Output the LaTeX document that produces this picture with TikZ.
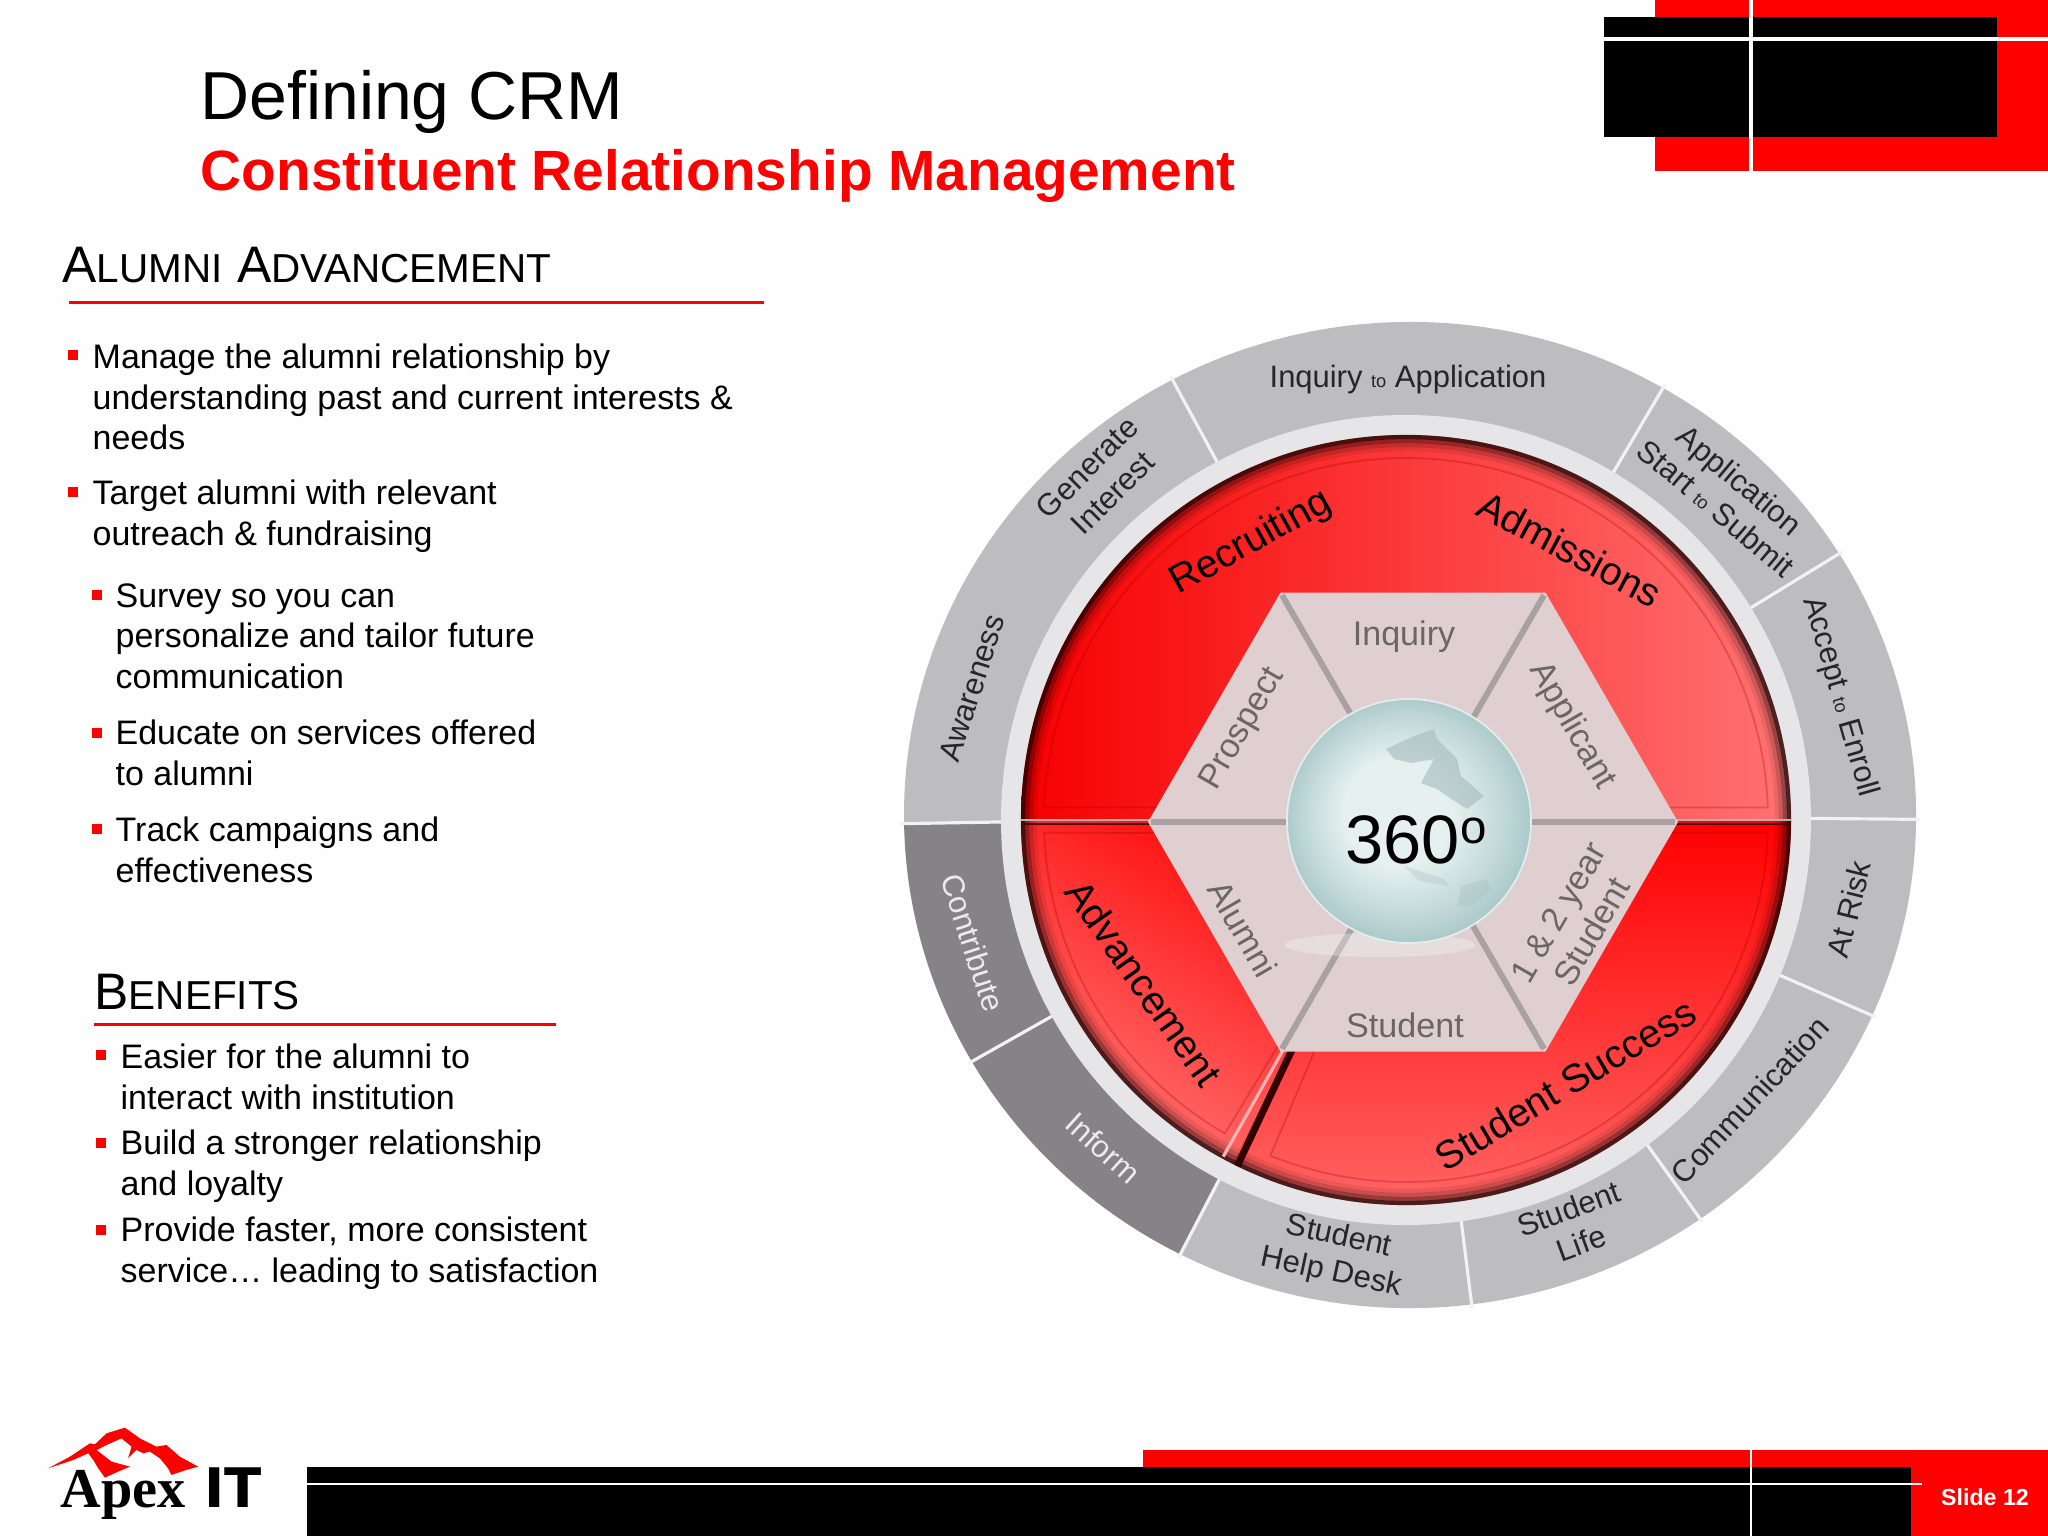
\documentclass[tikz,border=0pt]{standalone}
\usepackage{fontspec}
\setmainfont{Liberation Sans}
\newfontfamily\apexfont{Liberation Serif}
\newfontfamily\itfont{DejaVu Sans}
\definecolor{ringlight}{HTML}{BDBCBF}
\definecolor{ringdark}{HTML}{858387}
\definecolor{bandgray}{HTML}{E6E6E8}
\definecolor{hexfill}{HTML}{DFCFD0}
\definecolor{hexline}{HTML}{A9A1A1}
\definecolor{hextext}{HTML}{6A6666}
\definecolor{redsoft}{HTML}{FF7272}
\definecolor{redmid}{HTML}{FF5656}
\definecolor{globerim}{HTML}{A3C4C4}
\definecolor{globemid}{HTML}{C3D9D9}
\definecolor{globecore}{HTML}{E6F0F0}
\definecolor{globeland}{HTML}{A4BABA}
\pgfdeclareradialshading{globeball}{\pgfpoint{-4bp}{3bp}}{
  color(0bp)=(globecore);
  color(11bp)=(globecore);
  color(20bp)=(globemid);
  color(27bp)=(globerim)
}
\newcommand{\wheelsector}[3]{
  \fill[#3] (0,0) -- (#1:506 and 493) arc[start angle=#1,end angle=#2,x radius=506,y radius=493] -- cycle;
}
\newcommand{\tinyto}{{\fontsize{5.2}{6}\selectfont to}}
\begin{document}
\begin{tikzpicture}[
        x=0.01cm,
        y=-0.01cm,
        title text/.style={
          anchor=west, inner sep=0pt,
          font=\fontsize{19.3}{22}\selectfont,
        },
        subtitle text/.style={
          anchor=west, inner sep=0pt, text=red,
          font=\bfseries\fontsize{16.15}{18}\selectfont,
        },
        head text/.style={
          anchor=west, inner sep=0pt,
          font=\fontsize{14.6}{16}\selectfont,
        },
        body text/.style={
          anchor=west, inner sep=0pt, align=left,
          font=\fontsize{9.66}{11.5}\selectfont,
        },
        bullet box/.style={
          fill=red, inner sep=0pt, minimum size=2.8pt,
        },
        ring label/.style={
          inner sep=0pt, align=center, text=black!85,
          font=\fontsize{8.8}{10.4}\selectfont,
        },
        dark label/.style={
          ring label, text=white!92!black,
        },
        red label/.style={
          inner sep=0pt, text=black,
          font=\fontsize{11.2}{13}\selectfont,
        },
        hex label/.style={
          inner sep=0pt, align=center, text=hextext,
          font=\fontsize{9.7}{11}\selectfont,
        },
        inset line/.style={
          red!55!black, opacity=0.25, line width=0.5pt,
        },
        ]
        \useasboundingbox (0,0) rectangle (2048,1536);
        \fill[white!99.5!black] (0,0) rectangle (2048,1536);

        \fill[red] (1655,0) rectangle (2048,171);
        \fill[black] (1604,17) rectangle (1997,137);
        \draw[white, line width=0.9pt] (1604,39) -- (2048,39);
        \draw[white, line width=0.9pt] (1751,0) -- (1751,171);

        \fill[red] (1143,1450) rectangle (2048,1536);
        \fill[black] (307,1467) rectangle (1911,1536);
        \draw[white, line width=0.7pt] (307,1484) -- (1922,1484);
        \draw[white, line width=0.7pt] (1751,1450) -- (1751,1536);
        \node[inner sep=0pt, text=white, font=\bfseries\fontsize{6.6}{8}\selectfont] (slide) at (1985,1497) {Slide 12};

        \node[title text] (title) at (200,102) {Defining CRM};
        \node[subtitle text] (subtitle) at (200,176) {Constituent Relationship Management};

        \node[head text] (alumnihead) at (62,265) {A{\fontsize{11.5}{16}\selectfont LUMNI} A{\fontsize{11.5}{16}\selectfont DVANCEMENT}};
        \draw[red, line width=0.85pt] (69,302) -- (764,302);
        \node[body text] (manage) at (92,397) {Manage the alumni relationship by\\understanding past and current interests \&\\needs};
        \node[body text] (target) at (92,516) {Target alumni with relevant\\outreach \& fundraising};
        \node[body text] (survey) at (115,636) {Survey so you can\\personalize and tailor future\\communication};
        \node[body text] (educate) at (115,753) {Educate on services offered\\to alumni};
        \node[body text] (track) at (115,850) {Track campaigns and\\effectiveness};
        \node[bullet box] (bmanage) at (73,355) {};
        \node[bullet box] (btarget) at (73,492) {};
        \node[bullet box] (bsurvey) at (97,595) {};
        \node[bullet box] (beducate) at (97,733) {};
        \node[bullet box] (btrack) at (97,829) {};

        \node[head text] (benefitshead) at (94,992) {B{\fontsize{11.5}{16}\selectfont ENEFITS}};
        \draw[red, line width=0.85pt] (94,1024) -- (556,1024);
        \node[body text] (easier) at (120,1077) {Easier for the alumni to\\interact with institution};
        \node[body text] (build) at (120,1166) {Build a stronger relationship\\and loyalty};
        \node[body text] (faster) at (120,1253) {Provide faster, more consistent\\service… leading to satisfaction};
        \node[bullet box] (beasier) at (101,1055) {};
        \node[bullet box] (bbuild) at (101,1143) {};
        \node[bullet box] (bfaster) at (101,1230) {};

        \begin{scope}[shift={(1410,815)}, y=0.01cm]
          \wheelsector{243}{541}{ringlight}
          \wheelsector{181}{243}{ringdark}
          \foreach \a in {359.5,32,60,118,181,210,243,277,305,336}
            \draw[white!95!black, line width=0.9pt] (\a:360 and 350) -- (\a:510 and 497);
        \end{scope}

        \begin{scope}[shift={(1406,820)}, y=0.01cm]
          \fill[bandgray] (0,0) circle[radius=405];
          \shade[left color=red!97!black, middle color=redmid, right color=redsoft]
            (180:385) arc[start angle=180,end angle=0,radius=385] -- cycle;
          \shade[top color=red, middle color=redmid, bottom color=redsoft]
            (0,0) -- (243:385) arc[start angle=243,end angle=360,radius=385] -- cycle;
          \shade[top color=red, middle color=red!90!white, bottom color=redsoft, shading angle=-30]
            (0,0) -- (180:385) arc[start angle=180,end angle=243,radius=385] -- cycle;
          \draw[inset line] (178:362) arc[start angle=178,end angle=2,radius=362] -- cycle;
          \draw[inset line] (0,-14) -- (358:362) arc[start angle=358,end angle=248,radius=362] -- cycle;
          \draw[inset line] (0,-14) -- (182:362) arc[start angle=182,end angle=240,radius=362] -- cycle;
          \foreach \r/\o in {383/0.7,379/0.4,375/0.2,371/0.08}
            \draw[black, opacity=\o, line width=1.2pt] (0,0) circle[radius=\r];
          \draw[white!70!red, line width=0.9pt] (242:235) -- (241.5:383);
          \draw[black!80!red, line width=2pt] (243.5:235) -- (244:385);
          \draw[white!70!black, line width=0.8pt] (180:385) -- (0:385);
          \draw[black!70!red, line width=0.8pt] (-385,-4) -- (385,-4);
        \end{scope}

        \begin{scope}[shift={(1413,822)}, y=0.01cm]
          \fill[hexfill] (0:265) -- (60:265) -- (120:265) -- (180:265) -- (240:265) -- (300:265) -- cycle;
          \foreach \a in {0,60,120,180,240,300}
            \draw[hexline, line width=1.7pt] (\a:262) -- (\a:100);
          \fill[white, opacity=0.3] (-33,-123) ellipse[x radius=95, y radius=12];
        \end{scope}

        \begin{scope}[shift={(1409,821)}, y=0.01cm]
          \shade[shading=globeball] (0,0) circle[radius=122];
          \fill[globeland, opacity=0.6] (-23,72) -- (5,85) -- (25,92) -- (28,82) -- (48,62) -- (52,45) -- (75,25) -- (58,12) -- (38,25) -- (28,32) -- (12,38) -- (25,62) -- (2,58) -- (-15,62) -- cycle;
          \fill[globeland, opacity=0.3] (-5,-45) -- (35,-58) -- (40,-65) -- (10,-60) -- cycle;
          \fill[globeland, opacity=0.3] (48,-85) -- (52,-65) -- (78,-58) -- (82,-68) -- (62,-85) -- cycle;
          \draw[white!70!globerim, line width=0.5pt] (0,0) circle[radius=122];
        \end{scope}
        \node[anchor=base west, inner sep=0pt, text=black, font=\fontsize{19.5}{21}\selectfont] (degrees) at (1345,863) {360\raisebox{5.5pt}{\fontsize{13.5}{14}\selectfont o}};

        \node[ring label] (inquiryapp) at (1408,379) {Inquiry \tinyto{} Application};
        \node[ring label, rotate=45] (generate) at (1100,480) {Generate\\Interest};
        \node[ring label, rotate=72] (awareness) at (972,688) {Awareness};
        \node[ring label, rotate=-40] (application) at (1728,494) {Application\\Start \tinyto{} Submit};
        \node[ring label, rotate=-74] (accept) at (1840,697) {Accept \tinyto{} Enroll};
        \node[ring label, rotate=76] (atrisk) at (1849,909) {At Risk};
        \node[ring label, rotate=47] (communication) at (1750,1100) {Communication};
        \node[ring label, rotate=20] (studentlife) at (1575,1226) {Student\\Life};
        \node[ring label, rotate=-12] (helpdesk) at (1335,1255) {Student\\Help Desk};
        \node[dark label, rotate=-42] (inform) at (1103,1148) {Inform};
        \node[dark label, rotate=-72] (contribute) at (973,943) {Contribute};

        \node[red label, rotate=29] (recruiting) at (1251,543) {Recruiting};
        \node[red label, rotate=-28] (admissions) at (1570,549) {Admissions};
        \node[red label, rotate=-55] (advancement) at (1144,983) {Advancement};
        \node[red label, rotate=31] (success) at (1565,1084) {Student Success};

        \node[hex label] (inquiry) at (1404,637) {Inquiry};
        \node[hex label, rotate=-60] (applicant) at (1572,726) {Applicant};
        \node[hex label, rotate=60] (prospect) at (1243,729) {Prospect};
        \node[hex label, rotate=-60] (alumni) at (1243,929) {Alumni};
        \node[hex label] (student) at (1405,1025) {Student};
        \node[hex label, rotate=60] (yearstudent) at (1575,922) {1 \& 2 year\\Student};

        \begin{scope}[shift={(40,1415)}, x=0.00333cm, y=-0.00333cm]
          \fill[red] (25,160) -- (90,125) -- (150,85) -- (165,88) -- (200,55) -- (255,38) -- (300,70) -- (350,95) -- (380,90)
            -- (420,125) -- (475,155) -- (440,165) -- (395,180) -- (385,160) -- (360,130) -- (330,110) -- (310,115)
            -- (290,105) -- (265,130) -- (275,95) -- (245,70) -- (200,90) -- (170,105) -- (215,140) -- (270,155)
            -- (235,170) -- (195,188) -- (175,160) -- (160,135) -- (145,115) -- (100,135) -- cycle;
        \end{scope}
        \node[anchor=base west, inner sep=0pt, text=black, font=\apexfont\bfseries\fontsize{16}{18}\selectfont] (apex) at (60,1507) {Apex};
        \node[anchor=base west, inner sep=0pt, text=black, font=\itfont\bfseries\fontsize{15.5}{18}\selectfont] (it) at (204,1507) {IT};
      \end{tikzpicture}
\end{document}
